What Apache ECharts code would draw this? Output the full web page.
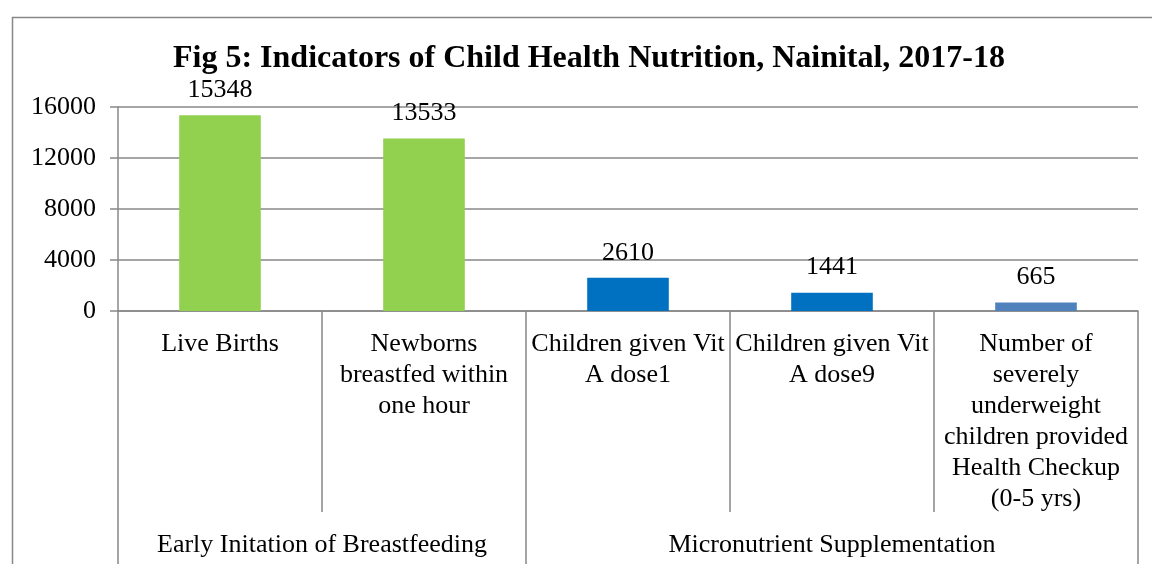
<!DOCTYPE html>
<html>
<head>
<meta charset="utf-8">
<script src="https://cdn.jsdelivr.net/npm/echarts@6/dist/echarts.min.js"></script>
<style>
  html, body { margin: 0; padding: 0; background: #fff; }
  #chart { width: 1152px; height: 564px; }
</style>
</head>
<body>
<div id="chart"></div>
<script>
// data
const categories = [
  'Live Births',
  'Newborns\nbreastfed within\none hour',
  'Children given Vit\nA dose1',
  'Children given Vit\nA dose9',
  'Number of\nseverely\nunderweight\nchildren provided\nHealth Checkup\n(0-5 yrs)'
];
const values = [15348, 13533, 2610, 1441, 665];
const barColors = ['#92D050', '#92D050', '#0070C0', '#0070C0', '#4F81BD'];
const groupNames = ['Early Initation of Breastfeeding', 'Micronutrient Supplementation'];
const groupSizes = [2, 3];
const yTicks = [0, 4000, 8000, 12000, 16000];

const FONT = '"Liberation Serif", "Times New Roman", serif';
const GRID_COLOR = '#888888';

// group boundaries / centres in category units
let groupEdges = [0];
let groupCenters = [];
groupSizes.forEach(function (n) {
  const start = groupEdges[groupEdges.length - 1];
  groupCenters.push(start + n / 2);
  groupEdges.push(start + n);
});

let chart = echarts.init(document.getElementById('chart'));

let option = {
  animation: false,
  backgroundColor: '#fff',
  title: {
    text: 'Fig 5: Indicators of Child Health Nutrition, Nainital, 2017-18',
    left: 168,
    top: 38,
    textStyle: {
      fontFamily: FONT,
      fontSize: 32,
      fontWeight: 'bold',
      color: '#000'
    }
  },
  graphic: [
    {
      type: 'rect',
      left: 10,
      top: 15,
      shape: { width: 1300, height: 700 },
      style: { fill: 'none', stroke: GRID_COLOR, lineWidth: 1.5 },
      z: -1
    }
  ],
  grid: {
    left: 118,
    right: 14,
    top: 107,
    bottom: 253
  },
  xAxis: [
    {
      type: 'category',
      data: categories,
      axisLine: { show: true, lineStyle: { color: GRID_COLOR, width: 1.5 } },
      axisTick: {
        show: true,
        interval: 0,
        alignWithLabel: false,
        length: 201,
        lineStyle: { color: GRID_COLOR, width: 1.5 }
      },
      axisLabel: {
        interval: 0,
        margin: 18,
        fontFamily: FONT,
        fontSize: 26,
        lineHeight: 31,
        color: '#000',
        align: 'center'
      }
    },
    {
      type: 'value',
      position: 'bottom',
      min: 0,
      max: categories.length,
      axisLine: { show: false },
      splitLine: { show: false },
      axisTick: {
        show: true,
        customValues: groupEdges,
        length: 260,
        lineStyle: { color: GRID_COLOR, width: 1.5 }
      },
      axisLabel: {
        customValues: groupCenters,
        margin: 221,
        fontFamily: FONT,
        fontSize: 26,
        color: '#000',
        formatter: function (v) {
          const i = groupCenters.indexOf(v);
          return i >= 0 ? groupNames[i] : '';
        }
      }
    }
  ],
  yAxis: {
    type: 'value',
    min: yTicks[0],
    max: yTicks[yTicks.length - 1],
    interval: yTicks[1] - yTicks[0],
    axisLine: { show: true, lineStyle: { color: GRID_COLOR, width: 1.5 } },
    axisTick: { show: true, length: 8, lineStyle: { color: GRID_COLOR, width: 1.5 } },
    splitLine: { show: true, lineStyle: { color: GRID_COLOR, width: 1.5 } },
    axisLabel: {
      margin: 22,
      fontFamily: FONT,
      fontSize: 26,
      color: '#000',
      formatter: function (v) { return String(v); }
    }
  },
  series: [
    {
      type: 'bar',
      xAxisIndex: 0,
      barWidth: '40%',
      data: values.map(function (v, i) {
        return { value: v, itemStyle: { color: barColors[i] } };
      }),
      label: {
        show: true,
        position: 'top',
        distance: 12,
        fontFamily: FONT,
        fontSize: 26,
        color: '#000'
      }
    }
  ]
};

chart.setOption(option);
</script>
</body>
</html>
